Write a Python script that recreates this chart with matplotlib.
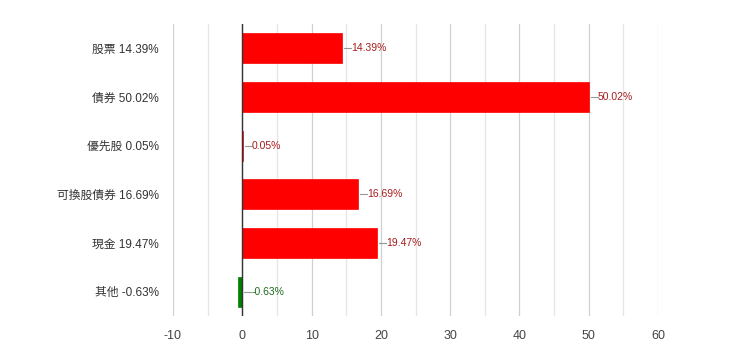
import matplotlib.pyplot as plt
from matplotlib.ticker import MultipleLocator

plt.rcParams['font.family'] = ['Liberation Sans', 'Noto Sans CJK TC', 'DejaVu Sans']

# 資產配置
categories = ['股票', '債券', '優先股', '可換股債券', '現金', '其他']
values = [14.39, 50.02, 0.05, 16.69, 19.47, -0.63]
ticks = [-10, 0, 10, 20, 30, 40, 50, 60]

fig = plt.figure(figsize=(7.4, 3.42), dpi=100)
ax = fig.add_axes([173 / 740, 1 - 316 / 342, 485 / 740, 292 / 342])

ypos = list(range(len(categories)))
colors = ['#ff0000' if v >= 0 else '#008000' for v in values]
ax.barh(ypos, values, height=0.62, color=colors, edgecolor=colors, linewidth=0.5, zorder=3)

# 標籤
for y, v in zip(ypos, values):
    x0 = max(v, 0)
    tc = '#a61c1c' if v >= 0 else '#1e6b1e'
    ax.plot([x0 + 0.3, x0 + 1.3], [y, y], color='#999999', lw=0.8, zorder=4)
    ax.text(x0 + 1.3, y, f'{v:.2f}%', color=tc, fontsize=7.5, va='center', ha='left', zorder=5)

ax.set_xlim(-10, 60)
ax.set_ylim(len(categories) - 0.5, -0.5)
ax.xaxis.set_minor_locator(MultipleLocator(5))
ax.set_xticks(ticks)
ax.set_xticklabels([str(t) for t in ticks])
ax.grid(axis='x', which='major', color='#d0d0d0', lw=0.9, zorder=0)
ax.grid(axis='x', which='minor', color='#e6e6e6', lw=0.9, zorder=0)
ax.axvline(0, color='#333333', lw=1, zorder=4)

ax.set_yticks(ypos)
ax.set_yticklabels([f'{c} {v:.2f}%' for c, v in zip(categories, values)])
ax.tick_params(axis='y', length=0, pad=10, labelsize=8.5, labelcolor='#333333')
ax.tick_params(axis='x', which='both', length=0, pad=10, labelsize=9, labelcolor='#444444')
for s in ax.spines.values():
    s.set_visible(False)

fig.savefig('out.png', dpi=100, facecolor='white')
